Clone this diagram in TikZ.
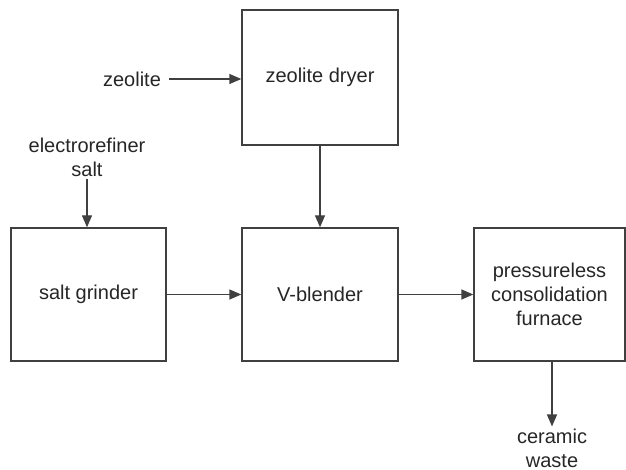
\documentclass[tikz,border=0pt]{standalone}
\usepackage{fontspec}
\setmainfont{Liberation Sans}
\usetikzlibrary{arrows.meta}
\begin{document}
\begin{tikzpicture}[x=1pt,y=-1pt,
  every node/.style={font=\fontsize{20}{24}\selectfont, text=black!85, align=center},
  unit/.style={draw=black!75, line width=1.4pt, inner sep=0pt},
  label/.style={inner sep=2pt},
  flow/.style={draw=black!75, line width=1.4pt, -{Triangle[length=12pt,width=10pt]}}]
  \useasboundingbox (0,0) rectangle (626,470);
  % process units
  \node[unit, minimum width=156pt, minimum height=135pt] (dryer) at (320,77.5) {zeolite dryer};
  \node[unit, minimum width=155pt, minimum height=133pt] (grinder) at (88.5,294.5) {salt grinder};
  \node[unit, minimum width=156pt, minimum height=133pt] (blender) at (320,294.5) {V-blender};
  \node[unit, minimum width=151pt, minimum height=133pt] (furnace) at (549.5,294.5) {pressureless\\consolidation\\furnace};
  % feeds and product
  \node[label] (zeolite) at (132,79) {zeolite};
  \node[label] (salt) at (87,157) {electrorefiner\\salt};
  \node[label] (waste) at (552,448) {ceramic\\waste};
  \coordinate (fout) at (552,361);
  % connectors
  \draw[flow, shorten <=6pt] (zeolite.east) -- (zeolite.east -| dryer.west);
  \draw[flow] (salt.south) -- (salt.south |- grinder.north);
  \draw[flow] (dryer) -- (blender);
  \draw[flow] (grinder) -- (blender);
  \draw[flow] (blender) -- (furnace);
  \draw[flow] (fout) -- (waste.north);
\end{tikzpicture}
\end{document}
